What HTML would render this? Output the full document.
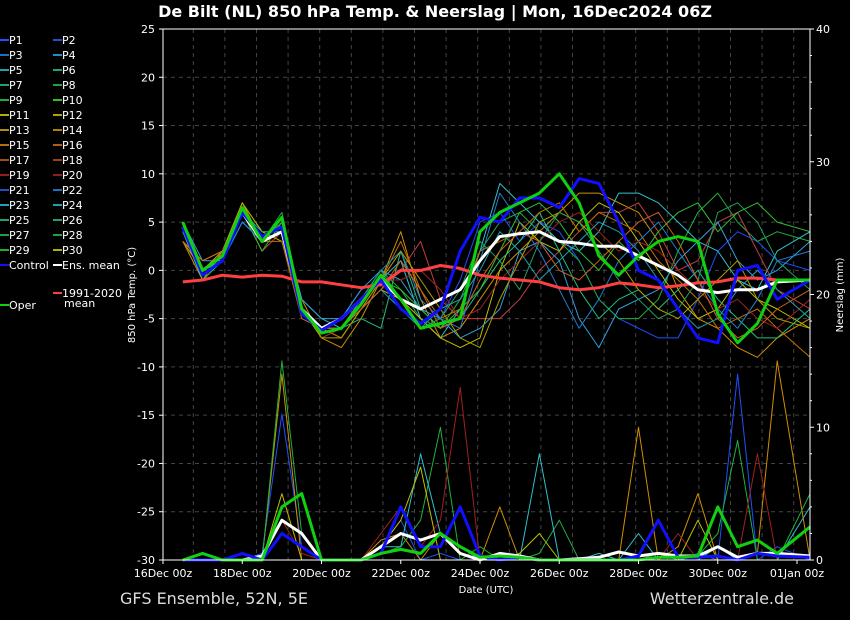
<!DOCTYPE html>
<html><head><meta charset="utf-8"><style>
body{margin:0;background:#000;}
svg{display:block;font-family:"DejaVu Sans","Liberation Sans",sans-serif;}
</style></head><body>
<svg id="c" width="850" height="620" viewBox="0 0 850 620">
<rect width="850" height="620" fill="#000"/>
<text x="435" y="17" fill="#fff" font-size="16" font-weight="bold" text-anchor="middle">De Bilt  (NL)  850 hPa Temp. &amp; Neerslag | Mon, 16Dec2024 06Z</text>
<text x="120" y="604" fill="#ddd" font-size="16">GFS Ensemble, 52N, 5E</text>
<text x="794" y="604" fill="#ddd" font-size="16" text-anchor="end">Wetterzentrale.de</text>
<g id="grid"></g>
<g id="precip"></g>
<g id="temps"></g>
<rect x="163" y="29" width="647" height="531" fill="none" stroke="#fff" stroke-width="1"/>
<g id="axes"></g>
<g id="legend"></g>
<text transform="translate(135,295) rotate(-90)" fill="#fff" font-size="10" text-anchor="middle">850 hPa Temp. (°C)</text>
<text transform="translate(843,295) rotate(-90)" fill="#fff" font-size="10" text-anchor="middle">Neerslag (mm)</text>
<text x="486" y="593" fill="#fff" font-size="10" text-anchor="middle">Date (UTC)</text>
</svg>
<script>
const xLabels=["16Dec 00z","18Dec 00z","20Dec 00z","22Dec 00z","24Dec 00z","26Dec 00z","28Dec 00z","30Dec 00z","01Jan 00z"];
const tempTicks=[25,20,15,10,5,0,-5,-10,-15,-20,-25,-30];
const precipTicks=[40,30,20,10,0];
const times=[0.5,1,1.5,2,2.5,3,3.5,4,4.5,5,5.5,6,6.5,7,7.5,8,8.5,9,9.5,10,10.5,11,11.5,12,12.5,13,13.5,14,14.5,15,15.5,16.33];
const ensMean=[4.5,0,1.5,6,3,4,-4,-6,-5,-3,-1,-3,-4,-3,-2,1,3.5,3.8,4,3,2.8,2.5,2.5,1.5,0.5,-0.5,-2,-2.3,-2,-2,-1.2,-1];
const control=[4.5,-0.5,1,6,3.5,4.5,-4.5,-6.2,-5,-3,-1,-4,-5.5,-4,2,5.5,5,7.5,7.5,6.5,9.5,9,5,0,-1,-4,-7,-7.5,0,0.5,-3,-1];
const oper=[5,0,1.5,6.5,3,5.5,-4,-6.5,-6,-3.5,-0.5,-3,-6,-5.5,-5,4,6,7,8,10,7,1.5,-0.5,1.5,3,3.5,3,-4.5,-7.5,-5.5,-1,-1];
const climate=[-1.2,-1,-0.5,-0.7,-0.5,-0.6,-1.2,-1.2,-1.5,-1.8,-1.5,0,0,0.5,0.2,-0.5,-0.8,-1,-1.2,-1.8,-2,-1.8,-1.3,-1.5,-1.8,-1.6,-1.3,-1.2,-0.8,-0.8,-1,-1];
const memberColors=["#1e50ff","#d09000","#20b040","#30c0d0","#c04040","#c0c000","#20c080","#30a0e0","#c07000","#30c030","#2080d0","#a02020","#20a0b0","#b0a000","#20a060","#d06020"];
const m1=[4,0,2,6,3,4,-4,-6,-5,-2,-1,-3,-6,-5,-1,5,6,3,5,4,1,-3,-5,-6,-7,-7,-3,2,4,3,1,0];
const m2=[3,-1,2,7,3,5,-3,-7,-8,-5,-1,4,-3,-7,-6,-3,0,2,4,6,8,8,7,6,3,-2,-5,-6,-8,-9,-7,-5];
const m3=[5,0,1,6,3,6,-4,-6,-5,-3,0,-2,-5,-6,-3,2,5,6,4,3,1,-3,-5,-5,-3,2,6,8,5,3,4,3];
const m4=[4,-1,1,5,3,4,-3,-5,-6,-3,-1,1,-5,-7,-4,2,9,7,5,3,2,4,8,8,7,5,3,2,-1,-2,2,4];
const m5=[4,0,2,6,2,4,-4,-6,-6,-4,-2,0,3,-3,-5,-5,-5,-3,0,2,4,6,6,7,4,0,1,5,6,2,-2,-4];
const m6=[3,1,2,7,4,3,-4,-6,-7,-4,-2,-3,-5,-7,-8,-7,0,5,3,2,5,7,6,3,0,-3,-5,-4,-1,-3,-4,-6];
const m7=[4,0,1,6,4,4,-4,-7,-6,-5,-6,2,-4,-6,-5,-2,1,3,6,2,-2,-5,-3,-2,-4,-2,0,-3,-5,-7,-7,-4];
const m8=[5,1,1,5,3,5,-3,-5,-5,-2,0,-1,-4,-5,-7,-6,-4,2,3,1,-5,-8,-4,-3,-2,1,3,5,1,-1,0,3];
const m9=[3,0,2,6,3,3,-5,-6,-7,-4,-1,3,-2,-5,-4,2,3,4,6,7,4,6,5,4,1,-1,-3,-6,-5,-4,-6,-9];
const m10=[5,-1,1,6,2,5,-4,-6,-6,-3,-1,-2,-4,-6,-4,-2,2,6,7,5,2,0,3,1,4,6,7,4,6,7,5,4];
const m11=[4,0,1,5,3,4,-4,-6,-5,-3,0,2,-3,-5,-6,1,8,5,2,-2,-6,-3,1,3,5,2,-1,-4,-6,-3,1,2];
const m12=[3,0,2,6,3,5,-4,-7,-6,-4,-1,-1,0,-2,-5,-4,-1,1,3,5,6,4,2,3,2,0,-2,-4,-3,-5,-6,-3];
const m13=[4,0,1,6,3,4,-4,-6,-6,-4,-2,-4,-6,-4,-3,0,4,2,-1,1,3,5,4,2,-1,-4,-6,-5,-2,0,-2,-5];
const m14=[3,0,2,7,3,4,-4,-7,-7,-4,-1,2,-1,-4,-7,-8,-3,1,5,6,5,3,1,-2,-4,-5,-3,-1,1,-3,-5,-6];
const m15=[5,0,1,6,3,5,-4,-6,-5,-3,0,-3,-6,-5,-2,3,1,-2,3,6,5,2,-1,-3,-5,-4,-1,6,7,5,1,-2];
const m16=[3,1,2,6,3,4,-4,-6,-6,-4,-2,1,-2,-6,-5,-1,2,4,3,0,-1,1,3,5,6,3,-1,-5,-7,-6,-4,-2];
const members=[m1,m2,m3,m4,m5,m6,m7,m8,m9,m10,m11,m12,m13,m14,m15,m16];
const meanPrecip=[0,0,0,0,0.3,3,2,0,0,0,1,2,1.5,2,0.5,0,0.5,0.3,0,0,0.1,0.2,0.6,0.3,0.5,0.3,0.3,1,0.2,0.5,0.5,0.3];
const controlPrecip=[0,0,0,0.5,0,2,1,0,0,0,0.5,4,1,1,4,0.3,0,0.2,0,0,0,0,0,0.3,3,0.2,0.2,0.3,0,0.5,0.3,0.2];
const operPrecip=[0,0.5,0,0,0,4,5,0,0,0,0.5,0.8,0.5,2,1,0.2,0.3,0.2,0,0,0,0,0,0,0.2,0.2,0.3,4,1,1.5,0.5,2.5];
const p1=[0,0,0,0,0.5,11,1,0,0,0,1,3,0,0.5,0,0,0,0,0,0,0,0,0,0,0,0,0.5,0,14,0,1,0];
const p2=[0,0,0,0,0,14,0,0,0,0,1.5,2,0,2,0.5,0,4,0,0,0,0,0,0,10,0,1,5,0,0,0.5,15,0];
const p3=[0,0,0,0,0,15,2,0,0,0,0.5,1,3,10,0,1,0,0,0.5,3,0,0,0,0,0.5,0,0.3,2,9,0,0,5];
const p5=[0,0,0,0,0,3,0.5,0,0,0,2,4,1,3,13,0,0,0,0,0,0,0,0,0,0,2,0,0,0,8,0,0];
const p9=[0,0,0,0,0,5,0,0,0,0,1,3,7,0,0,0,0,0.5,2,0,0,0,0,0,0,0,3,0,0,0,0,0];
const p10=[0,0,0,0,0,2,1,0,0,0,1,1,8,2,1,0,0,0,8,0,0,0.5,0,2,0,0,0,1,0,0,0,4];
const memberPrecip=[p1,p2,p3,p10,p5,p9];
const precipColors=["#1e50ff","#d09000","#20b040","#30c0d0","#a02020","#c0c000"];

const NS="http://www.w3.org/2000/svg";
const X0=163,X1=810,XE=797,Y0=29,Y1=560;
const xs=d=>X0+(XE-X0)*d/16;
const yT=v=>Y1-(v+30)*(Y1-Y0)/55;
const yP=v=>Y1-v*(Y1-Y0)/40;
function el(tag,attrs,parent){const e=document.createElementNS(NS,tag);for(const k in attrs)e.setAttribute(k,attrs[k]);parent.appendChild(e);return e;}
const grid=document.getElementById('grid'),axes=document.getElementById('axes');
for(let gx=193.3;gx<X1;gx+=31.6){
  const l=el('line',{x1:gx,x2:gx,y1:Y0,y2:Y1,stroke:'#444','stroke-dasharray':'4,4'},grid);
  
  
}
tempTicks.forEach(v=>{
  const y=yT(v);
  if(v>-30&&v<25){const g=el('line',{x1:X0,x2:X1,y1:y,y2:y,stroke:'#444','stroke-dasharray':'4,4'},grid);
  
  }
  el('line',{x1:X0-4,x2:X0,y1:y,y2:y,stroke:'#fff'},axes);
  const t=el('text',{x:X0-8,y:y+4,fill:'#fff','font-size':11,'text-anchor':'end'},axes);t.textContent=v;
  
  
});
for(let v=0;v<=40;v+=2){const y=yP(v);el('line',{x1:X1,x2:X1+(v%10?2:4),y1:y,y2:y,stroke:'#fff'},axes);}
precipTicks.forEach(v=>{
  const t=el('text',{x:X1+6,y:yP(v)+4,fill:'#fff','font-size':11},axes);t.textContent=v;
  
  
});
xLabels.forEach((s,i)=>{
  const x=xs(i*2);
  el('line',{x1:x,x2:x,y1:Y1,y2:Y1+4,stroke:'#fff'},axes);
  const t=el('text',{x:x,y:Y1+17,fill:'#fff','font-size':11,'text-anchor':'middle'},axes);t.textContent=s;
  
  
});
function line(arr,yf,color,w,parent,name){
  const pts=arr.map((v,i)=>xs(times[i]).toFixed(1)+','+yf(v).toFixed(1)).join(' ');
  const p=el('polyline',{points:pts,fill:'none',stroke:color,'stroke-width':w,'stroke-linejoin':'round'},parent);
  
  
}
const pg=document.getElementById('precip'),tg=document.getElementById('temps');
memberPrecip.forEach((a,i)=>line(a,yP,precipColors[i],1,pg,'member-precip-line'));
line(meanPrecip,yP,'#fff',3,pg,'ens-mean-precip-line');
line(controlPrecip,yP,'#1010ff',3,pg,'control-precip-line');
line(operPrecip,yP,'#10d010',3,pg,'oper-precip-line');
members.forEach((a,i)=>line(a,yT,memberColors[i],1,tg,'member-temp-line'));
line(climate,yT,'#ff4040',3,tg,'climate-mean-line');
line(ensMean,yT,'#fff',3,tg,'ens-mean-temp-line');
line(control,yT,'#1010ff',3,tg,'control-temp-line');
line(oper,yT,'#10d010',3,tg,'oper-temp-line');
const lg=document.getElementById('legend');
const legCols=["#1e50ff","#2050d0","#2070c0","#2090c0","#20a0b0","#20a080","#20a070","#20a040","#20b030","#30c020","#b0b000","#b0a000","#b09000","#b08000","#b07010","#b06010","#a05010","#a04010","#902020","#902020","#2050c0","#2070c0","#20a0c0","#20a0b0","#20a080","#20a070","#20a040","#20a040","#20b020","#b0b000"];
for(let i=0;i<30;i++){
  const col=i%2,row=Math.floor(i/2);
  const x=col?53:0,y=40+row*15;
  el('line',{x1:x,x2:x+9,y1:y,y2:y,stroke:legCols[i],'stroke-width':2},lg);
  const t=el('text',{x:x+9,y:y+4,fill:'#fff','font-size':11},lg);t.textContent='P'+(i+1);
  
  
}
[[0,265,'#1010ff','Control'],[53,265,'#fff','Ens. mean'],[53,293,'#ff4040','1991-2020'],[0,305,'#10d010','Oper']].forEach(e=>{
  el('line',{x1:e[0],x2:e[0]+9,y1:e[1],y2:e[1],stroke:e[2],'stroke-width':2},lg);
  const t=el('text',{x:e[0]+9,y:e[1]+4,fill:'#fff','font-size':11},lg);t.textContent=e[3];
  
  
});
const mt=el('text',{x:64,y:307,fill:'#fff','font-size':11},lg);mt.textContent='mean';


</script>
</body></html>
